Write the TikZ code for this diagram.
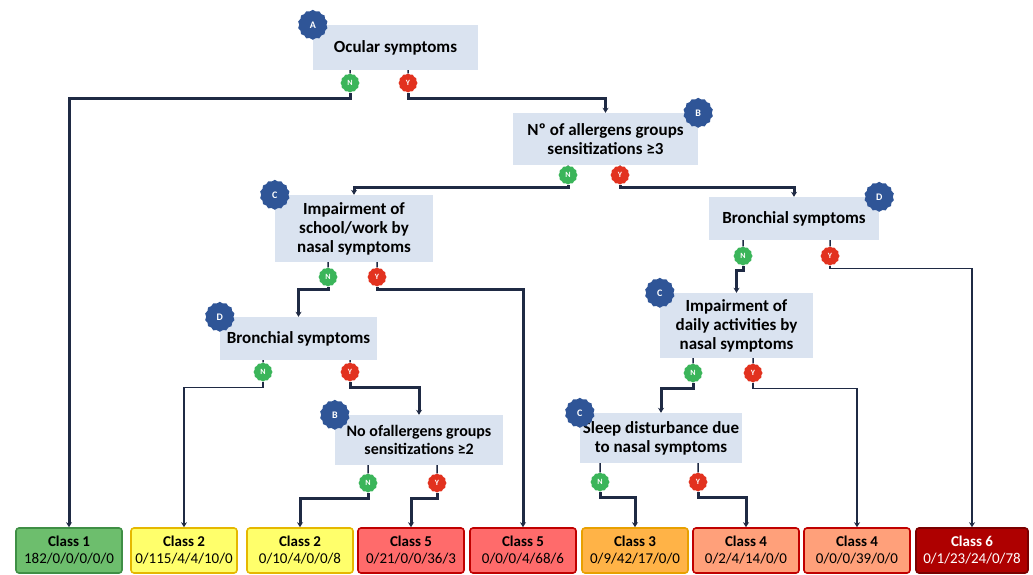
\documentclass[tikz,border=0pt]{standalone}
\usepackage{fontspec}
\setmainfont{Carlito}
\usetikzlibrary{shapes.geometric,arrows.meta}
\definecolor{qfill}{HTML}{DAE3F0}
\definecolor{tagblue}{HTML}{2F5597}
\definecolor{nogreen}{HTML}{3BB55A}
\definecolor{yesred}{HTML}{E2321F}
\definecolor{linkc}{HTML}{1F2A44}
\definecolor{gfill}{HTML}{6DBE6D}\definecolor{gdraw}{HTML}{3F8F45}
\definecolor{yfill}{HTML}{FFFF6B}\definecolor{ydraw}{HTML}{E5B800}
\definecolor{rfill}{HTML}{FF6B6B}\definecolor{rdraw}{HTML}{C00000}
\definecolor{ofill}{HTML}{FFB347}\definecolor{odraw}{HTML}{E8A000}
\definecolor{sfill}{HTML}{FFA07A}
\definecolor{dfill}{HTML}{AE0000}\definecolor{ddraw}{HTML}{7A0000}

\begin{document}
\begin{tikzpicture}[x=1pt,y=-1pt,
            qbox/.style={fill=qfill, align=center, inner sep=1pt,
                font=\bfseries\fontsize{17}{19}\selectfont},
            tag/.style={star, star points=14, star point ratio=1.1, fill=tagblue,
                text=white, inner sep=0pt, minimum size=30pt,
                font=\bfseries\fontsize{10}{10}\selectfont},
            nbadge/.style={star, star points=12, star point ratio=1.1, fill=nogreen,
                text=white, inner sep=0pt, minimum size=19pt,
                font=\bfseries\fontsize{8}{8}\selectfont},
            ybadge/.style={nbadge, fill=yesred},
            cls/.style={rounded corners=3pt, line width=1.6pt, align=center,
                minimum width=106pt, minimum height=45pt, inner sep=1pt,
                font=\fontsize{15}{17}\selectfont},
            link/.style={draw=linkc, line width=3pt, -{Stealth[length=5pt,width=6pt]}},
            thinlink/.style={link, line width=1.4pt},
            stub/.style={draw=linkc, line width=1.5pt}]
        \useasboundingbox (0,0) rectangle (1033,575);

        % questions
        \node[qbox, minimum width=165pt, minimum height=45pt] (qA) at (395.5,47.5) {Ocular symptoms};
        \node[qbox, minimum width=185pt, minimum height=52pt] (qB) at (605.5,139) {Nº of allergens groups\\sensitizations ≥3};
        \node[qbox, minimum width=158pt, minimum height=67pt] (qC1) at (354,228.5) {Impairment of\\school/work by\\nasal symptoms};
        \node[qbox, minimum width=170pt, minimum height=43pt] (qD2) at (794,218.5) {Bronchial symptoms};
        \node[qbox, minimum width=157pt, minimum height=43pt] (qD1) at (298.5,338.5) {Bronchial symptoms};
        \node[qbox, minimum width=153pt, minimum height=65pt] (qC2) at (736.5,325.5) {Impairment of\\daily activities by\\nasal symptoms};
        \node[qbox, minimum width=168pt, minimum height=50pt,
            font=\bfseries\fontsize{16}{18}\selectfont] (qB2) at (419,440) {No ofallergens groups\\sensitizations ≥2};
        \node[qbox, minimum width=162pt, minimum height=50pt] (qS) at (661,438) {Sleep disturbance due\\to nasal symptoms};

        % classes
        \node[cls, fill=gfill, draw=gdraw] (c1) at (69,550.5) {\textbf{Class 1}\\182/0/0/0/0/0};
        \node[cls, fill=yfill, draw=ydraw] (c2) at (184,550.5) {\textbf{Class 2}\\0/115/4/4/10/0};
        \node[cls, fill=yfill, draw=ydraw] (c3) at (300,550.5) {\textbf{Class 2}\\0/10/4/0/0/8};
        \node[cls, fill=rfill, draw=rdraw] (c4) at (411,550.5) {\textbf{Class 5}\\0/21/0/0/36/3};
        \node[cls, fill=rfill, draw=rdraw] (c5) at (523,550.5) {\textbf{Class 5}\\0/0/0/4/68/6};
        \node[cls, fill=ofill, draw=odraw] (c6) at (635,550.5) {\textbf{Class 3}\\0/9/42/17/0/0};
        \node[cls, fill=sfill, draw=rdraw] (c7) at (746,550.5) {\textbf{Class 4}\\0/2/4/14/0/0};
        \node[cls, fill=sfill, draw=rdraw] (c8) at (857,550.5) {\textbf{Class 4}\\0/0/0/39/0/0};
        \node[cls, fill=dfill, draw=ddraw, text=white, minimum width=112pt] (c9) at (972,550.5) {\textbf{Class 6}\\0/1/23/24/0/78};

        % answers
        \node[nbadge] (aN) at (350,83) {N};   \node[ybadge] (aY) at (408,83) {Y};
        \node[nbadge] (bN) at (568,175) {N};  \node[ybadge] (bY) at (620,175) {Y};
        \node[nbadge] (c1N) at (328,277) {N}; \node[ybadge] (c1Y) at (377,277) {Y};
        \node[nbadge] (d2N) at (743,256) {N}; \node[ybadge] (d2Y) at (830,256) {Y};
        \node[nbadge] (d1N) at (263,372) {N}; \node[ybadge] (d1Y) at (350,372) {Y};
        \node[nbadge] (c2N) at (693,373) {N}; \node[ybadge] (c2Y) at (753,373) {Y};
        \node[nbadge] (b2N) at (368,483) {N}; \node[ybadge] (b2Y) at (437,483) {Y};
        \node[nbadge] (sN) at (600,482) {N};  \node[ybadge] (sY) at (698,482) {Y};

        % stubs from question to answer
        \foreach \q/\a in {qA/aN,qA/aY,qB/bN,qB/bY,qC1/c1N,qC1/c1Y,qD2/d2N,qD2/d2Y,
                qD1/d1N,qD1/d1Y,qC2/c2N,qC2/c2Y,qB2/b2N,qB2/b2Y,qS/sN,qS/sY}
            \draw[stub] (\q.south -| \a) -- (\a.north);

        % connectors
        \draw[link] (aN.south) -- ++(0,6) -| (c1.north);
        \draw[link] (aY.south) -- ++(0,6) -| (qB.north);
        \draw[link] (bN.south) -- ++(0,3) -| (qC1.north);
        \draw[link] (bY.south) -- ++(0,3) -| (qD2.north);
        \draw[link] (c1N.south) -- ++(0,3) -| (qD1.north);
        \draw[link] (c1Y.south) -- ++(0,3) -| (c5.north);
        \draw[link] (d2N.south) -- ++(0,5) -| (qC2.north);
        \draw[thinlink] (d2Y.south) -- ++(0,3) -| (c9.north);
        \draw[thinlink] (d1N.south) -- ++(0,6) -| (c2.north);
        \draw[link] (d1Y.south) -- ++(0,6) -| (qB2.north);
        \draw[link] (c2N.south) -- ++(0,6) -| (qS.north);
        \draw[thinlink] (c2Y.south) -- ++(0,6) -| (c8.north);
        \draw[link] (b2N.south) -- ++(0,6) -| (c3.north);
        \draw[link] (b2Y.south) -- ++(0,6) -| (c4.north);
        \draw[link] (sN.south) -- ++(0,6) -| (c6.north);
        \draw[link] (sY.south) -- ++(0,6) -| (c7.north);

        % node letters
        \node[tag] (tA) at (qA.north west) {A};
        \node[tag] (tB) at (qB.north east) {B};
        \node[tag] (tC1) at (qC1.north west) {C};
        \node[tag] (tD2) at (qD2.north east) {D};
        \node[tag] (tD1) at (qD1.north west) {D};
        \node[tag] (tC2) at (qC2.north west) {C};
        \node[tag] (tB2) at (qB2.north west) {B};
        \node[tag] (tS) at (qS.north west) {C};
    \end{tikzpicture}
\end{document}
